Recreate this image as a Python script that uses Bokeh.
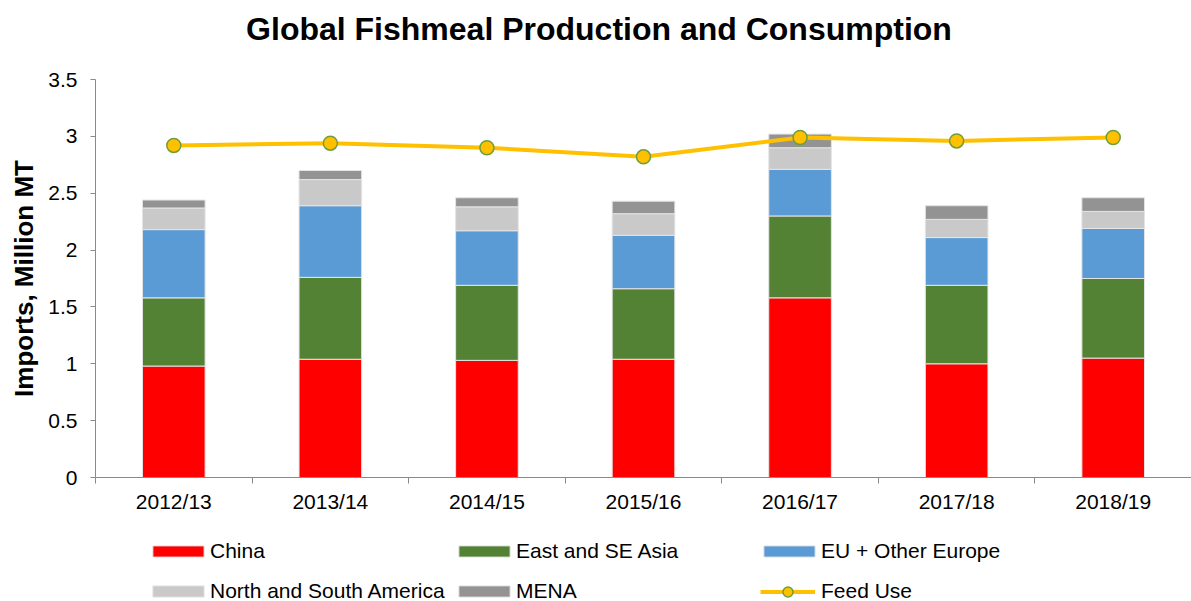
from bokeh.plotting import figure
from bokeh.layouts import column
from bokeh.models import (ColumnDataSource, FixedTicker, Legend, LegendItem,
                          NumeralTickFormatter, Label, Range1d)
from bokeh.embed import file_html
from bokeh.resources import INLINE

# ---- data ----
years = ["2012/13", "2013/14", "2014/15", "2015/16", "2016/17", "2017/18", "2018/19"]
china = [0.98, 1.04, 1.03, 1.04, 1.58, 1.00, 1.05]
east_se_asia = [0.60, 0.72, 0.66, 0.62, 0.72, 0.69, 0.70]
eu_other_europe = [0.60, 0.63, 0.48, 0.47, 0.41, 0.42, 0.44]
north_south_america = [0.19, 0.23, 0.21, 0.19, 0.19, 0.16, 0.15]
mena = [0.07, 0.08, 0.08, 0.11, 0.12, 0.12, 0.12]
feed_use = [2.92, 2.94, 2.90, 2.82, 2.99, 2.96, 2.99]
y_ticks = [0, 0.5, 1, 1.5, 2, 2.5, 3, 3.5]

series_names = ["China", "East and SE Asia", "EU + Other Europe",
                "North and South America", "MENA"]
stack_keys = ["china", "asia", "eu", "am", "mena"]
colors = ["#FF0000", "#548235", "#5B9BD5", "#C9C9C9", "#939393"]

FONT = "Liberation Sans"
AXIS_GREY = "#8A8A8A"
W = 1191
FRAME_LEFT = 95
LINE_COLOR = "#FFC000"
MARKER_EDGE = "#6E9E3A"
BAR_EDGE = "#E4E4E4"

xs = list(range(len(years)))
source = ColumnDataSource(dict(
    x=xs, china=china, asia=east_se_asia, eu=eu_other_europe,
    am=north_south_america, mena=mena, feed=feed_use))


def blank_figure(height, y_range=(0, 1)):
    f = figure(width=W, height=height, x_range=Range1d(-0.5, len(years) - 0.5),
               y_range=Range1d(*y_range),
               output_backend="svg", toolbar_location=None,
               x_axis_location=None, y_axis_location=None,
               min_border_left=FRAME_LEFT, min_border_right=0,
               min_border_top=0, min_border_bottom=0)
    f.outline_line_color = None
    f.xgrid.visible = False
    f.ygrid.visible = False
    return f


# ---- title strip ----
tfig = blank_figure(64)
tfig.add_layout(Label(x=(W + 6) / 2 - FRAME_LEFT, y=36, x_units="screen", y_units="screen",
                      text="Global Fishmeal Production and Consumption",
                      text_align="center", text_baseline="middle",
                      text_font=FONT, text_font_size="32px", text_font_style="bold",
                      text_color="#000000"))

# ---- main chart ----
p = figure(width=W, height=466, x_range=(-0.5, len(years) - 0.5), y_range=(0, 3.5),
           output_backend="svg", toolbar_location=None,
           min_border_left=FRAME_LEFT, min_border_right=0, min_border_top=15,
           min_border_bottom=53)
p.outline_line_color = None
p.xgrid.visible = False
p.ygrid.visible = False

p.vbar_stack(stack_keys, x="x", width=0.4, color=colors, source=source,
             line_color=BAR_EDGE, line_width=1)
p.line("x", "feed", source=source, line_color=LINE_COLOR, line_width=4)
p.scatter("x", "feed", source=source, size=14, fill_color=LINE_COLOR,
          line_color=MARKER_EDGE, line_width=1.5)

xa = p.xaxis[0]
xa.ticker = FixedTicker(ticks=xs, minor_ticks=[i - 0.5 for i in range(len(years) + 1)])
xa.major_label_overrides = {i: y for i, y in enumerate(years)}
xa.major_tick_out = 0
xa.major_tick_in = 0
xa.minor_tick_out = 6
xa.minor_tick_in = 0
xa.minor_tick_line_color = AXIS_GREY
xa.axis_line_color = AXIS_GREY
xa.major_label_text_font = FONT
xa.major_label_text_font_size = "21px"
xa.major_label_text_color = "#000000"
xa.major_label_standoff = 6

ya = p.yaxis[0]
ya.ticker = FixedTicker(ticks=y_ticks)
ya.formatter = NumeralTickFormatter(format="0.[0]")
ya.major_tick_out = 5
ya.major_tick_in = 0
ya.minor_tick_line_color = None
ya.major_tick_line_color = AXIS_GREY
ya.axis_line_color = AXIS_GREY
ya.major_label_text_font = FONT
ya.major_label_text_font_size = "21px"
ya.major_label_text_color = "#000000"
ya.major_label_standoff = 13
ya.axis_label = "Imports, Million MT"
ya.axis_label_text_font = FONT
ya.axis_label_text_font_size = "26px"
ya.axis_label_text_font_style = "bold"
ya.axis_label_text_color = "#000000"
ya.axis_label_standoff = 6

# ---- legend strip: same series drawn out of view, used only for legend glyphs ----
lfig = blank_figure(71, y_range=(100, 101))
swatches = lfig.vbar_stack(stack_keys, x="x", width=0.4, color=colors, source=source,
                           line_color=BAR_EDGE, line_width=1)
leg_line = lfig.line("x", "feed", source=source, line_color=LINE_COLOR, line_width=4)
leg_pts = lfig.scatter("x", "feed", source=source, size=14, fill_color=LINE_COLOR,
                       line_color=MARKER_EDGE, line_width=1.5)

# (legend x, legend bottom y, glyph width, glyph height, label standoff)
bar_slots = [(146 - FRAME_LEFT, 38), (452 - FRAME_LEFT, 38), (757 - FRAME_LEFT, 38),
             (146 - FRAME_LEFT, -2), (452 - FRAME_LEFT, -2)]
entries = [([swatches[i]], series_names[i], bar_slots[i][0], bar_slots[i][1], 64, 14, 0)
           for i in range(5)]
entries.append(([leg_line, leg_pts], "Feed Use", 760 - FRAME_LEFT, -2.5, 55, 25, 6))
for rends, label, lx, ly, gw, gh, so in entries:
    lg = Legend(items=[LegendItem(label=label, renderers=rends)],
                location=(lx, ly),
                orientation="horizontal", border_line_alpha=0, background_fill_alpha=0,
                padding=0, margin=0, spacing=0, glyph_width=gw, glyph_height=gh,
                label_standoff=so, label_text_font=FONT, label_text_font_size="21px",
                label_text_color="#000000", label_height=24)
    lfig.add_layout(lg)

layout = column(tfig, p, lfig, spacing=0)
open("out.html", "w").write(file_html(layout, INLINE))
